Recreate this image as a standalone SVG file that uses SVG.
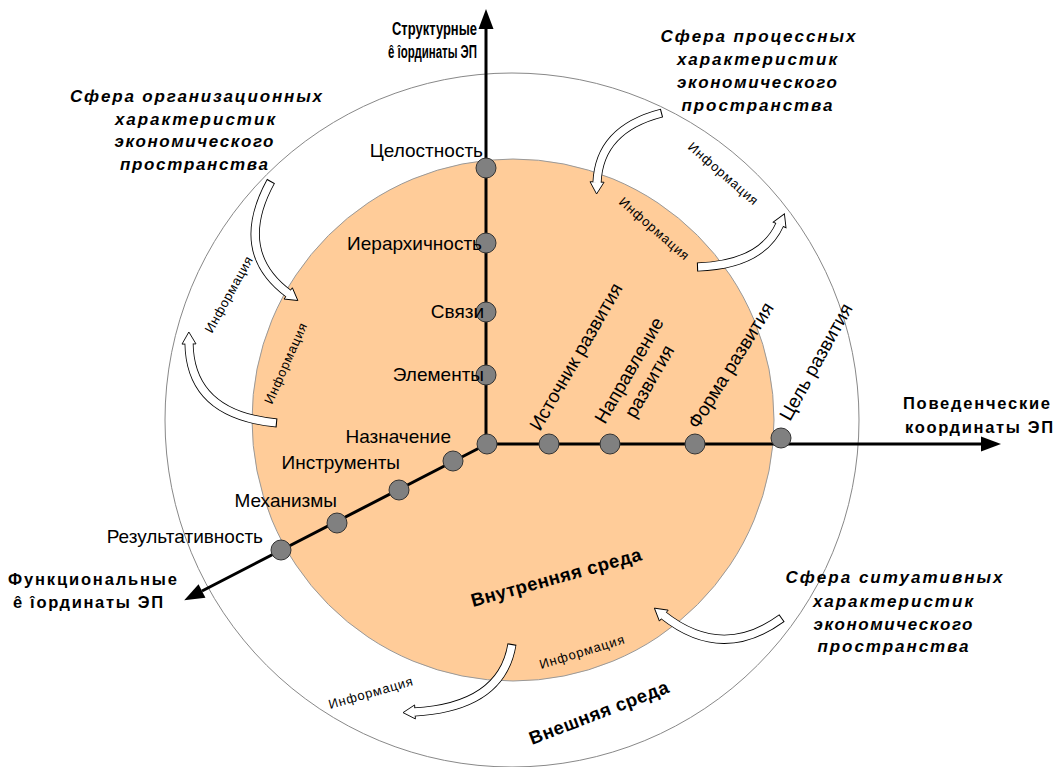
<svg xmlns="http://www.w3.org/2000/svg" width="1055" height="767" viewBox="0 0 1055 767">
<style>
.lbl{font-family:"Liberation Sans",Arial,sans-serif;font-size:19px;fill:#000}
.ax{font-family:"Liberation Sans",Arial,sans-serif;font-size:16.5px;font-weight:bold;fill:#000}
.axn{font-family:"Liberation Sans",Arial,sans-serif;font-size:17.5px;font-weight:bold;fill:#000}
.sph{font-family:"Liberation Sans",Arial,sans-serif;font-size:17px;font-weight:bold;font-style:italic;fill:#000;text-anchor:middle}
.inf{font-family:"Liberation Sans",Arial,sans-serif;font-size:13px;fill:#000}
.env{font-family:"Liberation Sans",Arial,sans-serif;font-size:18.5px;font-weight:bold;fill:#000}
.axis{stroke:#000;stroke-width:3;fill:none;marker-end:url(#axh)}
.node{fill:#808080;stroke:#333;stroke-width:1}
.bb{fill:none;stroke:#000;stroke-width:9;marker-end:url(#bh)}
.bw{fill:none;stroke:#fff;stroke-width:7.4;stroke-dasharray:0 1 3000}
</style>
<defs>
<marker id="axh" markerUnits="userSpaceOnUse" markerWidth="24" markerHeight="18" viewBox="0 -9 24 18" refX="0" refY="0" orient="auto" overflow="visible">
<path d="M0,-7.5 L20,0 L0,7.5 Z" fill="#000"/>
</marker>
<marker id="bh" markerUnits="userSpaceOnUse" markerWidth="16" markerHeight="18" viewBox="-2 -9 16 18" refX="0" refY="0" orient="auto" overflow="visible">
<path d="M-1,-7 L11,0 L-1,7 Z" fill="#fff" stroke="#000" stroke-width="0.9" stroke-linejoin="miter"/>
</marker>
</defs>
<rect width="1055" height="767" fill="#fff"/>

<g id="outer-env">
<circle cx="512" cy="420" r="347" fill="#fff" stroke="#888" stroke-width="1"/>
<text class="env" transform="translate(532,745) rotate(-21)" textLength="148">Внешняя среда</text>
</g>
<g id="inner-env">
<circle cx="513" cy="420" r="261" fill="#FFCC99" stroke="#999" stroke-width="1"/>
<text class="env" transform="translate(473,607) rotate(-15.5)" textLength="176">Внутренняя среда</text>
</g>

<g id="connectors">
<line class="axis" x1="486" y1="446" x2="486" y2="29"/>
<line class="axis" x1="485" y1="444" x2="981" y2="444"/>
<line class="axis" x1="487" y1="444" x2="202" y2="591"/>
<g id="info-arrows">
<path class="bb" d="M662 113 Q599 129 597 183"/><path class="bw" d="M662 113 Q599 129 597 183"/>
<path class="bb" d="M697 267 Q762 265 780 224"/><path class="bw" d="M697 267 Q762 265 780 224"/>
<path class="bb" d="M271 181 Q232 252 289 294"/><path class="bw" d="M271 181 Q232 252 289 294"/>
<path class="bb" d="M277 423 Q190 415 189 343"/><path class="bw" d="M277 423 Q190 415 189 343"/>
<path class="bb" d="M512 644 Q502 707 414 712"/><path class="bw" d="M512 644 Q502 707 414 712"/>
<path class="bb" d="M782 618 Q722 662 663 615"/><path class="bw" d="M782 618 Q722 662 663 615"/>
</g>
</g>

<g id="info-labels">
<text class="inf" transform="translate(687,148) rotate(41)" textLength="88">Информация</text>
<text class="inf" transform="translate(618,203) rotate(41)" textLength="88">Информация</text>
<text class="inf" transform="translate(212,334) rotate(-61)" textLength="85">Информация</text>
<text class="inf" transform="translate(272,405) rotate(-66)" textLength="87">Информация</text>
<text class="inf" transform="translate(541,669) rotate(-17)" textLength="88">Информация</text>
<text class="inf" transform="translate(330,709) rotate(-16)" textLength="87">Информация</text>
</g>

<g id="axis-structural">
<text class="axn" x="392" y="35" textLength="85" lengthAdjust="spacingAndGlyphs">Структурные</text>
<text class="axn" x="388" y="58" textLength="89" lengthAdjust="spacingAndGlyphs">ê îординаты ЭП</text>
</g>
<g id="axis-behavioral">
<text class="ax" x="903" y="409" textLength="147">Поведенческие</text>
<text class="ax" x="905" y="433" textLength="148">координаты ЭП</text>
</g>
<g id="axis-functional">
<text class="ax" x="8" y="585" textLength="169">Функциональные</text>
<text class="ax" x="13" y="608" textLength="150">ê îординаты ЭП</text>
</g>

<g id="node-center"><circle class="node" cx="487" cy="444" r="10"/></g>
<g id="node-celostnost"><circle class="node" cx="486" cy="168" r="10"/><text class="lbl" text-anchor="end" x="483" y="157">Целостность</text></g>
<g id="node-ierarh"><circle class="node" cx="486" cy="243" r="10"/><text class="lbl" text-anchor="end" x="482" y="250">Иерархичность</text></g>
<g id="node-svyazi"><circle class="node" cx="486" cy="312" r="10"/><text class="lbl" text-anchor="end" x="484" y="318">Связи</text></g>
<g id="node-elementy"><circle class="node" cx="486" cy="375" r="10"/><text class="lbl" text-anchor="end" x="484" y="381">Элементы</text></g>

<g id="node-naznachenie"><circle class="node" cx="453" cy="461" r="10"/><text class="lbl" text-anchor="end" x="451" y="443">Назначение</text></g>
<g id="node-instrumenty"><circle class="node" cx="399" cy="490" r="10"/><text class="lbl" text-anchor="end" x="400" y="469">Инструменты</text></g>
<g id="node-mehanizmy"><circle class="node" cx="337" cy="523" r="10"/><text class="lbl" text-anchor="end" x="337" y="507">Механизмы</text></g>
<g id="node-rezult"><circle class="node" cx="281" cy="550" r="10"/><text class="lbl" text-anchor="end" x="263" y="543">Результативность</text></g>

<g id="node-istochnik"><circle class="node" cx="549" cy="444" r="10"/><text class="lbl" transform="translate(540,432) rotate(-60)">Источник развития</text></g>
<g id="node-napravlenie"><circle class="node" cx="610" cy="444" r="10"/><text class="lbl" transform="translate(605,425) rotate(-60)"><tspan x="0" y="0">Направление</tspan><tspan x="20" y="23">развития</tspan></text></g>
<g id="node-forma"><circle class="node" cx="695" cy="444" r="10"/><text class="lbl" transform="translate(698,430) rotate(-58)">Форма развития</text></g>
<g id="node-cel"><circle class="node" cx="781" cy="438" r="10"/><text class="lbl" transform="translate(790,422) rotate(-61)">Цель развития</text></g>

<g id="sphere-org">
<text class="sph" x="196" y="102" textLength="252">Сфера  организационных</text>
<text class="sph" x="195" y="125" textLength="160">характеристик</text>
<text class="sph" x="194" y="147" textLength="159">экономического</text>
<text class="sph" x="194" y="170" textLength="148">пространства</text>
</g>
<g id="sphere-proc">
<text class="sph" x="758" y="42" textLength="195">Сфера  процессных</text>
<text class="sph" x="757" y="65" textLength="160">характеристик</text>
<text class="sph" x="757" y="88" textLength="160">экономического</text>
<text class="sph" x="757" y="111" textLength="151">пространства</text>
</g>
<g id="sphere-sit">
<text class="sph" x="894" y="583" textLength="217">Сфера  ситуативных</text>
<text class="sph" x="893" y="607" textLength="160">характеристик</text>
<text class="sph" x="893" y="630" textLength="159">экономического</text>
<text class="sph" x="893" y="652" textLength="151">пространства</text>
</g>
</svg>
